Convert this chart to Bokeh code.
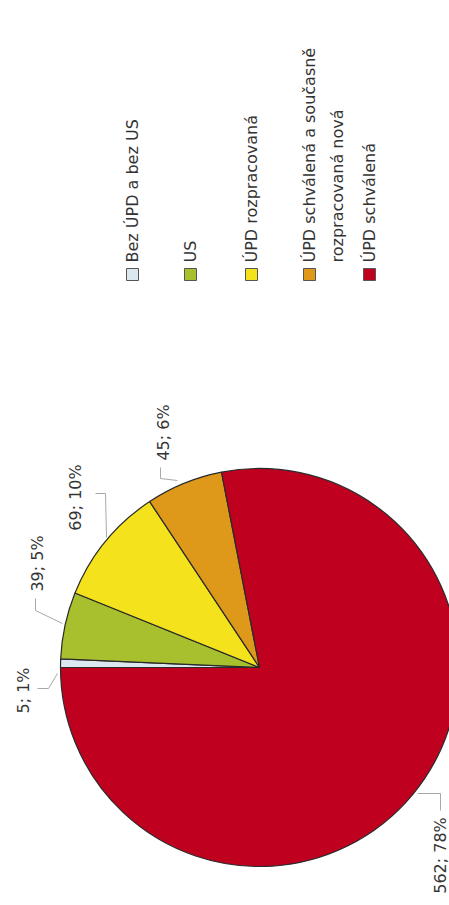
import math
from bokeh.plotting import figure
from bokeh.models import Range1d, ColumnDataSource
from bokeh.core.properties import value
from bokeh.embed import file_html
from bokeh.resources import INLINE

# ---- data ----
categories = ["Bez ÚPD a bez US", "US", "ÚPD rozpracovaná",
              "ÚPD schválená a současně rozpracovaná nová", "ÚPD schválená"]
counts = [5, 39, 69, 45, 562]
colors = ["#dce8ef", "#a8c02e", "#f3e21c", "#de981a", "#c0001f"]
legend_lines = [["Bez ÚPD a bez US"], ["US"], ["ÚPD rozpracovaná"],
                ["ÚPD schválená a současně", "rozpracovaná nová"], ["ÚPD schválená"]]

W, H = 449, 905
FONT = "DejaVu Sans"
TXT = "#333333"


def dx(sx):
    return sx


def dy(sy):
    return H - sy


total = sum(counts)
cum = [0]
for c in counts:
    cum.append(cum[-1] + c)
starts = [math.pi - 2 * math.pi * cum[i] / total for i in range(len(counts))]
ends = [math.pi - 2 * math.pi * cum[i + 1] / total for i in range(len(counts))]
labels = [f"{c}; {round(100 * c / total)}%" for c in counts]

p = figure(width=W, height=H, output_backend="svg", toolbar_location=None,
           x_range=Range1d(0, W), y_range=Range1d(0, H),
           min_border=0)
p.axis.visible = False
p.grid.visible = False
p.outline_line_color = None
p.background_fill_color = "white"

# pie (chart is rotated: starts at left, goes clockwise)
cx, cy, r = dx(259), dy(667), 199
src = ColumnDataSource(dict(start=starts, end=ends, color=colors))
p.wedge(x=cx, y=cy, radius=r, start_angle="start", end_angle="end",
        direction="clock", fill_color="color", line_color="#2a2a2a",
        line_width=1.2, source=src)

# leader lines and data labels (layout positions)
label_pos = [(23, 690), (37, 563), (75, 497), (163, 432), (440, 855)]
leaders = [
    [(57, 673), (48, 688), (37, 688)],
    [(62, 623), (35, 610), (35, 598)],
    [(106, 537), (105, 493), (95, 493)],
    [(177, 480), (160, 478), (160, 467)],
    [(417, 793), (440, 793), (440, 810)],
]
for pts in leaders:
    p.line([dx(a) for a, b in pts], [dy(b) for a, b in pts],
           line_color="#a8a8a8", line_width=1)

p.text(x=[dx(a) for a, b in label_pos], y=[dy(b) for a, b in label_pos],
       text=labels, angle=math.pi / 2, text_align="center",
       text_baseline="middle", text_font=value(FONT),
       text_font_size="16px", text_color=TXT)

# legend (rotated)
leg_x = [132, 190, 251, 309, 369]
line_gap = 28
p.rect(x=[dx(v) for v in leg_x], y=[dy(274)] * len(leg_x), width=12, height=12,
       fill_color=colors, line_color="#555555", line_width=1)
tx, ty, tt = [], [], []
for xi, lines in zip(leg_x, legend_lines):
    for j, t in enumerate(lines):
        tx.append(dx(xi + j * line_gap))
        ty.append(dy(262))
        tt.append(t)
p.text(x=tx, y=ty, text=tt, angle=math.pi / 2, text_align="left",
       text_baseline="middle", text_font=value(FONT),
       text_font_size="16px", text_color=TXT)

open("out.html", "w").write(file_html(p, INLINE))
